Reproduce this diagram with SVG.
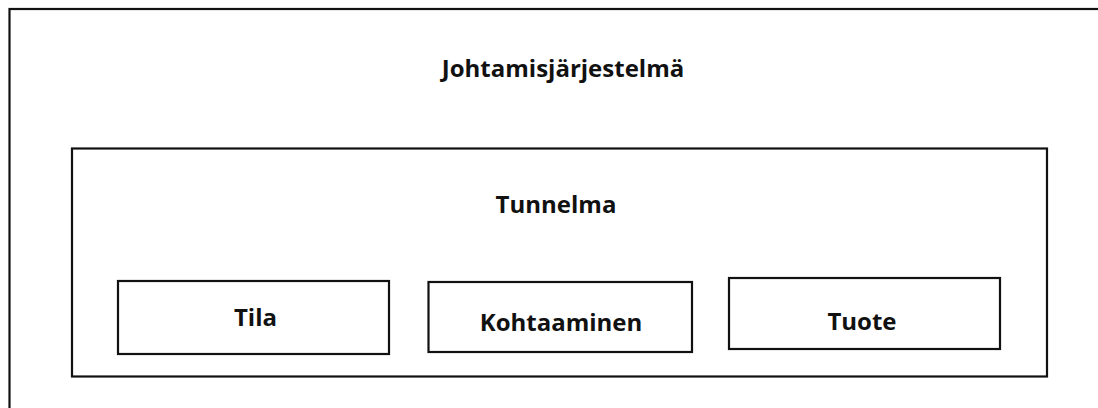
<svg xmlns="http://www.w3.org/2000/svg" width="1098" height="408" viewBox="0 0 1098 408">
<style>
.box{fill:none;stroke:#111;stroke-width:2.2}
.lbl{font-family:"Open Sans","Liberation Sans",sans-serif;font-weight:bold;font-size:24px;fill:#111;text-anchor:middle}
</style>
<rect width="1098" height="408" fill="#fff"/>
<g id="johtamisjarjestelma">
<rect class="box" x="9.5" y="9" width="1100" height="410"/>
<text class="lbl" x="563" y="77">Johtamisjärjestelmä</text>
</g>
<g id="tunnelma">
<rect class="box" x="72" y="148.5" width="975" height="228"/>
<text class="lbl" x="556" y="213">Tunnelma</text>
</g>
<g id="tila">
<rect class="box" x="118" y="281" width="271" height="73"/>
<text class="lbl" x="255.5" y="326">Tila</text>
</g>
<g id="kohtaaminen">
<rect class="box" x="428.5" y="282" width="263.5" height="70"/>
<text class="lbl" x="561" y="331">Kohtaaminen</text>
</g>
<g id="tuote">
<rect class="box" x="729" y="278" width="271" height="71"/>
<text class="lbl" x="862" y="330">Tuote</text>
</g>
<g id="connectors"/>
</svg>
